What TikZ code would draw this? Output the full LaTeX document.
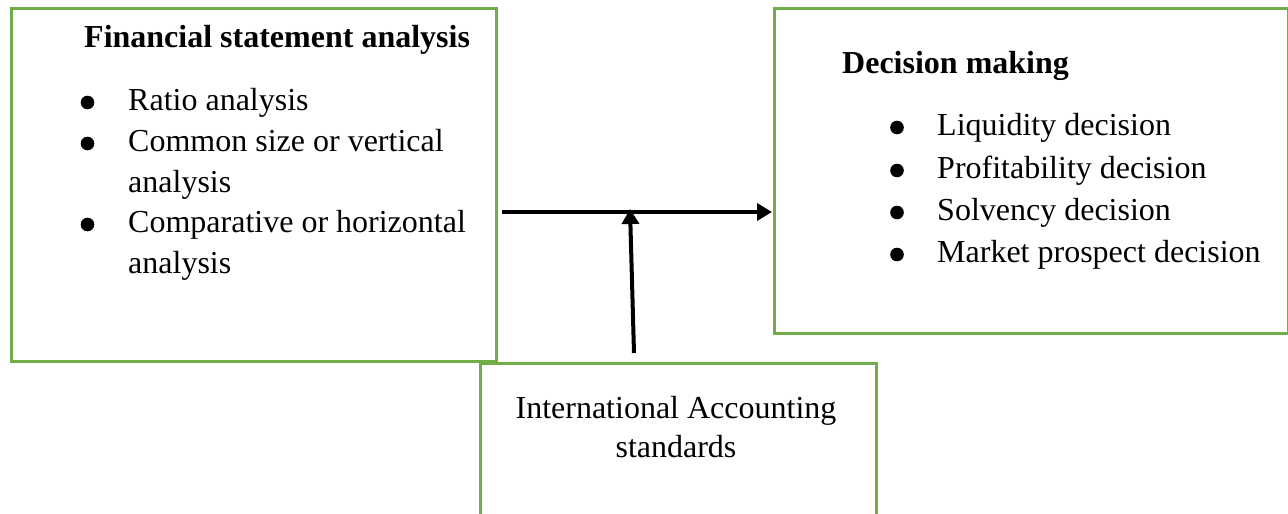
\documentclass[tikz,border=0pt]{standalone}
\usepackage{fontspec}
\setmainfont{Liberation Serif}
\usetikzlibrary{arrows.meta}
\definecolor{boxgreen}{RGB}{112,173,71}
\begin{document}
\begin{tikzpicture}[x=1pt,y=-1pt,
  box/.style={draw=boxgreen, line width=3pt, rectangle, inner sep=0pt, anchor=north west},
  txt/.style={inner sep=0pt, anchor=base west, font=\fontsize{32}{41}\selectfont},
  ctxt/.style={inner sep=0pt, anchor=base, font=\fontsize{32}{41}\selectfont},
  bul/.style={fill=black},
  arr/.style={line width=4pt, -{Triangle[length=15pt,width=17pt]}}]
\clip (0,0) rectangle (1288,514);
\fill[white] (0,0) rectangle (1288,514);
% boxes
\node[box, minimum width=485pt, minimum height=353pt] (fsa) at (10,7) {};
\node[box, minimum width=514pt, minimum height=325pt] (dm) at (773,7) {};
\node[box, minimum width=396pt, minimum height=180pt] (ias) at (479,362) {};
% left box text
\node[txt, font=\fontsize{32}{41}\selectfont\bfseries] (t1) at (84,47) {Financial statement analysis};
\node[txt] (l1) at (128,110) {Ratio analysis};
\node[txt] (l2) at (128,151) {Common size or vertical};
\node[txt] (l3) at (128,192) {analysis};
\node[txt] (l4) at (128,232) {Comparative or horizontal};
\node[txt] (l5) at (128,273) {analysis};
\fill[bul] (87.5,102.5) circle (6.8pt);
\fill[bul] (87.5,143.5) circle (6.8pt);
\fill[bul] (87.5,224.5) circle (6.8pt);
% right box text
\node[txt, font=\fontsize{32}{41}\selectfont\bfseries] (t2) at (842,73) {Decision making};
\node[txt] (r1) at (937,135) {Liquidity decision};
\node[txt] (r2) at (937,178) {Profitability decision};
\node[txt] (r3) at (937,220) {Solvency decision};
\node[txt] (r4) at (937,262) {Market prospect decision};
\fill[bul] (897,127.5) circle (6.8pt);
\fill[bul] (897,170.5) circle (6.8pt);
\fill[bul] (897,212.5) circle (6.8pt);
\fill[bul] (897,254.5) circle (6.8pt);
% bottom box text
\node[ctxt] (b1) at (676,418) {International Accounting};
\node[ctxt] (b2) at (676,457) {standards};
% arrows
\coordinate (h0) at (502,212);
\coordinate (h1) at (772,212);
\coordinate (v0) at (634,353);
\coordinate (v1) at (630,209);
\draw[arr] (h0) -- (h1);
\draw[arr] (v0) -- (v1);
\end{tikzpicture}
\end{document}
